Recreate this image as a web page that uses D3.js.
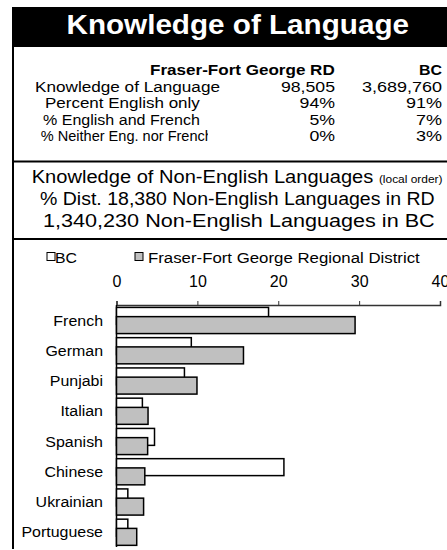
<!DOCTYPE html>
<html>
<head>
  <meta charset="utf-8">
  <title>Knowledge of Language</title>
  <style>
    body { margin: 0; background: #fff; }
    text { font-family: "Liberation Sans", Arial, sans-serif; fill: #000; }
  </style>
</head>
<body>
  <div id="chart"></div>

  <script src="https://cdn.jsdelivr.net/npm/d3@7/dist/d3.min.js"></script>
  <script>
    // table data
    const tableHeader = ['Fraser-Fort George RD', 'BC'];
    const tableRows = ['Knowledge of Language', 'Percent English only', '% English and French', '% Neither Eng. nor French'];
    const rdColumn = ['98,505', '94%', '5%', '0%'];
    const bcColumn = ['3,689,760', '91%', '7%', '3%'];

    const subTitles = ['% Dist. 18,380 Non-English Languages in RD', '1,340,230 Non-English Languages in BC'];

    // bar data (% of non-english languages)
    const categories = ['French', 'German', 'Punjabi', 'Italian', 'Spanish', 'Chinese', 'Ukrainian', 'Portuguese'];
    const bcValues = [18.8, 9.25, 8.4, 3.2, 4.7, 20.7, 1.4, 1.4];
    const rdValues = [29.5, 15.7, 9.95, 3.9, 3.85, 3.5, 3.35, 2.5];
    const seriesNames = ['BC', 'Fraser-Fort George Regional District'];
    const xTicks = [0, 10, 20, 30, 40];

    const W = 447, H = 550;
    const svg = d3.select('#chart').append('svg')
      .attr('width', W).attr('height', H);

    // text with a horizontal stretch factor sx
    function txt(parent, x, y, s, size, sx, anchor, bold) {
      return parent.append('text')
        .attr('transform', 'translate(' + x + ',' + y + ') scale(' + sx + ',1)')
        .attr('text-anchor', anchor || 'start')
        .style('font-size', size + 'px')
        .style('font-weight', bold ? 'bold' : 'normal')
        .text(s);
    }

    // text stretched so it runs from x0 to x1 (optionally only the first n chars)
    function fit(t, x0, x1, y, n) {
      const node = t.node();
      const w = n ? node.getSubStringLength(0, n) : node.getComputedTextLength();
      t.attr('text-anchor', 'start')
        .attr('transform', 'translate(' + x0 + ',' + y + ') scale(' + ((x1 - x0) / w) + ',1)');
      return t;
    }

    // title band
    svg.append('rect').attr('x', 12).attr('y', 7).attr('width', W - 12).attr('height', 40).attr('fill', '#000');
    fit(txt(svg, 0, 0, 'Knowledge of Language', 28, 1, 'start', true), 66.5, 409, 34).style('fill', '#fff');

    // frame lines
    svg.append('line').attr('x1', 13).attr('x2', 13).attr('y1', 47).attr('y2', 549)
      .attr('stroke', '#000').attr('stroke-width', 2);
    [161.5, 239].forEach(y => {
      svg.append('line').attr('x1', 12).attr('x2', W).attr('y1', y).attr('y2', y)
        .attr('stroke', '#000').attr('stroke-width', 2);
    });

    // table
    svg.append('clipPath').attr('id', 'labelClip')
      .append('rect').attr('x', 14).attr('y', 50).attr('width', 194).attr('height', 110);
    fit(txt(svg, 0, 0, tableHeader[0], 15, 1, 'start', true), 150, 335, 75);
    fit(txt(svg, 0, 0, tableHeader[1], 15, 1, 'start', true), 419, 442, 75);
    const rowY = d3.scaleLinear().domain([0, 3]).range([91.5, 141]);
    const rowSpan = [[35, 220], [45, 200], [43, 200]];
    tableRows.forEach((r, i) => {
      if (i < 3) {
        fit(txt(svg, 0, 0, r, 15, 1), rowSpan[i][0], rowSpan[i][1], rowY(i));
      } else {
        // last label runs past its cell and is cut off
        const t = txt(svg.append('g').attr('clip-path', 'url(#labelClip)'), 0, 0, r, 15, 1);
        fit(t, 40.7, 205, rowY(i), r.length - 1);
      }
      txt(svg, 335, rowY(i), rdColumn[i], 15, 1.18, 'end');
      txt(svg, 442, rowY(i), bcColumn[i], 15, 1.2, 'end');
    });

    // sub titles
    const st = txt(svg, 0, 0, 'Knowledge of Non-English Languages ', 18.5, 1);
    st.append('tspan').style('font-size', '11px').text('(local order)');
    fit(st, 31.7, 443, 183);
    fit(txt(svg, 0, 0, subTitles[0], 18.5, 1), 40, 435, 205);
    fit(txt(svg, 0, 0, subTitles[1], 18.5, 1), 43, 435, 227);

    // legend
    const legend = svg.append('g');
    [[47, '#fff', 55, 77], [135, '#c0c0c0', 148, 420]].forEach((d, i) => {
      legend.append('rect').attr('x', d[0]).attr('y', 252.5).attr('width', 8).attr('height', 8)
        .attr('fill', d[1]).attr('stroke', '#000').attr('stroke-width', 1);
      fit(txt(legend, 0, 0, seriesNames[i], 15, 1), d[2], d[3], 263);
    });

    // scales
    const x = d3.scaleLinear().domain([0, 40]).range([116.5, 440]);
    const y = d3.scaleBand().domain(categories).range([305, 547]);
    const bw = y.bandwidth();

    // x axis on top
    const xAxis = d3.axisTop(x).tickValues(xTicks).tickSize(4).tickPadding(14);
    const ax = svg.append('g').attr('transform', 'translate(0,305)').call(xAxis);
    ax.select('.domain').attr('stroke', '#333').attr('stroke-width', 1.5);
    ax.selectAll('.tick line').attr('stroke', '#333');
    ax.selectAll('.tick text').style('font-size', '16px').style('font-family', '"Liberation Sans", Arial, sans-serif');

    // y axis
    svg.append('line').attr('x1', x(0)).attr('x2', x(0)).attr('y1', 305).attr('y2', 547)
      .attr('stroke', '#000').attr('stroke-width', 1.5);
    categories.forEach(c => {
      txt(svg, 103, y(c) + bw / 2 + 5.5, c, 15.5, 1.03, 'end');
    });

    // bars: BC behind, RD in front
    svg.selectAll('rect.bc')
      .data(categories)
      .enter().append('rect').attr('class', 'bc')
        .attr('x', x(0))
        .attr('y', d => y(d) + bw * 0.08)
        .attr('width', (d, i) => x(bcValues[i]) - x(0))
        .attr('height', bw * 0.56)
        .attr('fill', '#fff').attr('stroke', '#000').attr('stroke-width', 1.5);

    svg.selectAll('rect.rd')
      .data(categories)
      .enter().append('rect').attr('class', 'rd')
        .attr('x', x(0))
        .attr('y', d => y(d) + bw * 0.385)
        .attr('width', (d, i) => x(rdValues[i]) - x(0))
        .attr('height', bw * 0.56)
        .attr('fill', '#c0c0c0').attr('stroke', '#000').attr('stroke-width', 1.5);
  </script>
</body>
</html>
